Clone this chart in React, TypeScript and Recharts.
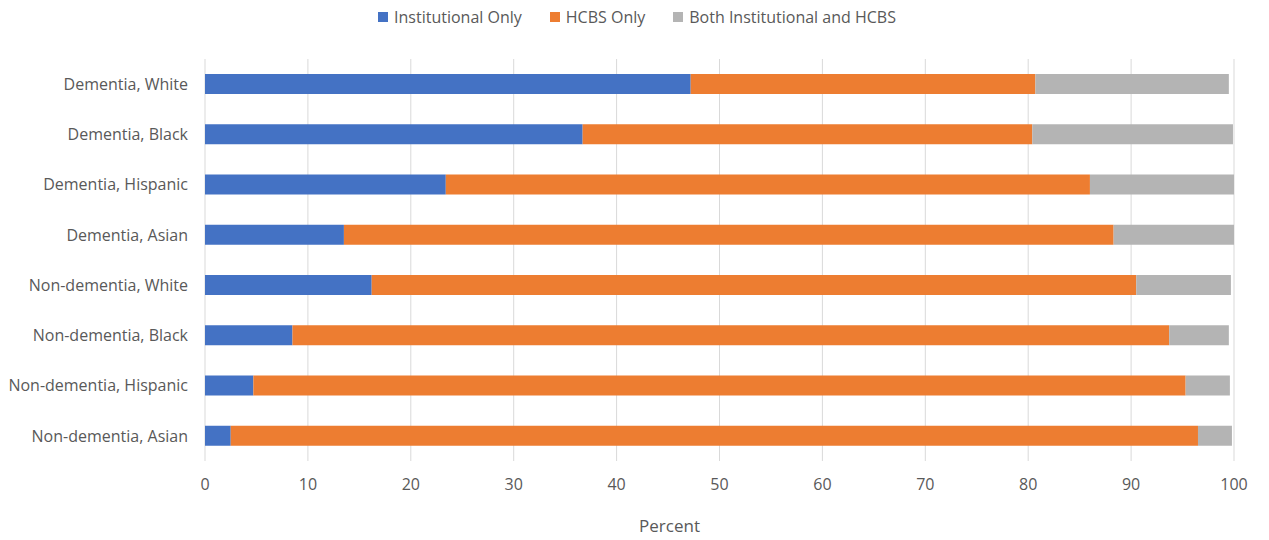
import React from 'react';
import { BarChart, Bar, XAxis, YAxis, CartesianGrid, Legend } from 'recharts';

const categories = [
  'Dementia, White',
  'Dementia, Black',
  'Dementia, Hispanic',
  'Dementia, Asian',
  'Non-dementia, White',
  'Non-dementia, Black',
  'Non-dementia, Hispanic',
  'Non-dementia, Asian',
];
const institutionalOnly = [47.2, 36.7, 23.4, 13.5, 16.2, 8.5, 4.7, 2.5];
const hcbsOnly = [33.5, 43.7, 62.6, 74.8, 74.3, 85.2, 90.6, 94.0];
const bothInstHcbs = [18.8, 19.5, 14.0, 11.7, 9.2, 5.8, 4.3, 3.3];
const xTicks = [0, 10, 20, 30, 40, 50, 60, 70, 80, 90, 100];
const seriesNames = ['Institutional Only', 'HCBS Only', 'Both Institutional and HCBS'];
const seriesKeys = ['inst', 'hcbs', 'both'];
const seriesColors = ['#4472C4', '#ED7D31', '#B4B4B4'];

const data = categories.map((c, i) => ({
  name: c,
  inst: institutionalOnly[i],
  hcbs: hcbsOnly[i],
  both: bothInstHcbs[i],
}));

const FONT = '"Open Sans", sans-serif';
const TEXT = '#595959';

const LegendContent = () => (
  <div style={{ display: 'flex', justifyContent: 'center', fontFamily: FONT, fontSize: 16, color: TEXT, paddingLeft: 40 }}>
    {seriesNames.map((n, i) => (
      <div key={n} style={{ display: 'flex', alignItems: 'center', marginRight: i < 2 ? 28 : 0 }}>
        <span style={{ display: 'inline-block', width: 10, height: 10, background: seriesColors[i], marginRight: 6 }} />
        <span>{n}</span>
      </div>
    ))}
  </div>
);

export default function App() {
  return (
    <div style={{ position: 'absolute', left: 0, top: 0 }}>
      <BarChart
        width={1269}
        height={540}
        data={data}
        layout="vertical"
        margin={{ top: 24, right: 35, bottom: 0, left: 0 }}
        barCategoryGap={0}
      >
        <Legend
          verticalAlign="top"
          align="center"
          height={35}
          wrapperStyle={{ top: 6 }}
          content={<LegendContent />}
        />
        <CartesianGrid horizontal={false} stroke="#d9d9d9" />
        <XAxis
          type="number"
          domain={[0, 100]}
          ticks={xTicks}
          interval={0}
          axisLine={false}
          tickLine={false}
          tickSize={0}
          tickMargin={18}
          height={79}
          tick={{ fill: TEXT, fontSize: 16, fontFamily: FONT }}
          label={{ value: 'Percent', position: 'insideBottom', offset: 8, dx: -50, fill: TEXT, fontSize: 17, fontFamily: FONT }}
        />
        <YAxis
          type="category"
          dataKey="name"
          width={205}
          axisLine={false}
          tickLine={false}
          tickSize={0}
          tickMargin={17}
          interval={0}
          tick={{ fill: TEXT, fontSize: 16, fontFamily: FONT }}
        />
        {seriesKeys.map((k, i) => (
          <Bar key={k} dataKey={k} name={seriesNames[i]} stackId="a" fill={seriesColors[i]} barSize={20} isAnimationActive={false} />
        ))}
      </BarChart>
    </div>
  );
}
